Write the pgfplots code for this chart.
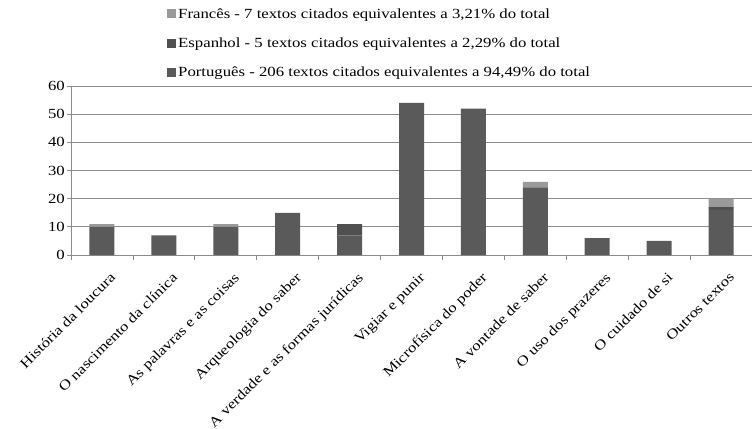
\documentclass[border=0pt]{standalone}
\usepackage{fontspec}
\setmainfont{Liberation Serif}[FakeStretch=1.2]
\usepackage{pgfplots}
\usepackage{pgfplotstable}
\pgfplotsset{compat=1.18}
\definecolor{pt}{HTML}{5A5A5A}
\definecolor{es}{HTML}{505050}
\definecolor{fr}{HTML}{9A9A9A}
\definecolor{gridc}{HTML}{8C8C8C}
\pgfplotstableread{
x pt es fr
0 10 0 1
1 7 0 0
2 10 0 1
3 15 0 0
4 7 4 0
5 54 0 0
6 52 0 0
7 24 0 2
8 6 0 0
9 5 0 0
10 16 1 3
}\data
\begin{document}
\begin{tikzpicture}
\path[use as bounding box] (-71bp,-174bp) rectangle (681bp,255bp);
\begin{axis}[
  at={(0,0)}, anchor=south west,
  scale only axis, width=681bp, height=169bp,
  xmin=-0.5, xmax=10.5, ymin=0, ymax=60,
  ybar stacked, bar width=25bp,
  axis lines*=left,
  axis line style={gridc, line width=0.8bp},
  ymajorgrids, grid style={gridc, line width=0.8bp},
  ytick={0,10,...,60},
  xtick={0,...,10},
  xticklabels={História da loucura, O nascimento da clínica, As palavras e as coisas, Arqueologia do saber, A verdade e as formas jurídicas, Vigiar e punir, Microfísica do poder, A vontade de saber, O uso dos prazeres, O cuidado de si, Outros textos},
  x tick label style={rotate=45, anchor=north east, inner sep=1bp, yshift=-13bp, xshift=-2.5bp},
  xtick style={draw=none},
  extra x ticks={-0.5,0.5,...,10.5},
  extra x tick labels={},
  extra x tick style={xtick style={draw=gridc, line width=0.8bp}, major tick length=5bp},
  tick align=outside,
  ytick style={draw=gridc, line width=0.8bp}, 
  major tick length=4bp,
  /pgf/number format/assume math mode=true,
  tick label style={font=\fontsize{14}{16}\selectfont},
  y tick label style={inner sep=2bp},
  reverse legend,
  legend cell align=left,
  legend style={at={(0.141,1.47)}, anchor=north west, draw=none, fill=none,
    font=\fontsize{14}{16}\selectfont, row sep=14bp, inner sep=0pt},
  legend image code/.code={\fill[#1] (0bp,-4bp) rectangle (9bp,5bp);},
]
\addplot[fill=pt, draw=none] table[x=x, y=pt] {\data};
\addlegendentry{Português - 206 textos citados equivalentes a 94,49\% do total}
\addplot[fill=es, draw=none] table[x=x, y=es] {\data};
\addlegendentry{Espanhol - 5 textos citados equivalentes a 2,29\% do total}
\addplot[fill=fr, draw=none] table[x=x, y=fr] {\data};
\addlegendentry{Francês - 7 textos citados equivalentes a 3,21\% do total}
\end{axis}
\end{tikzpicture}
\end{document}
